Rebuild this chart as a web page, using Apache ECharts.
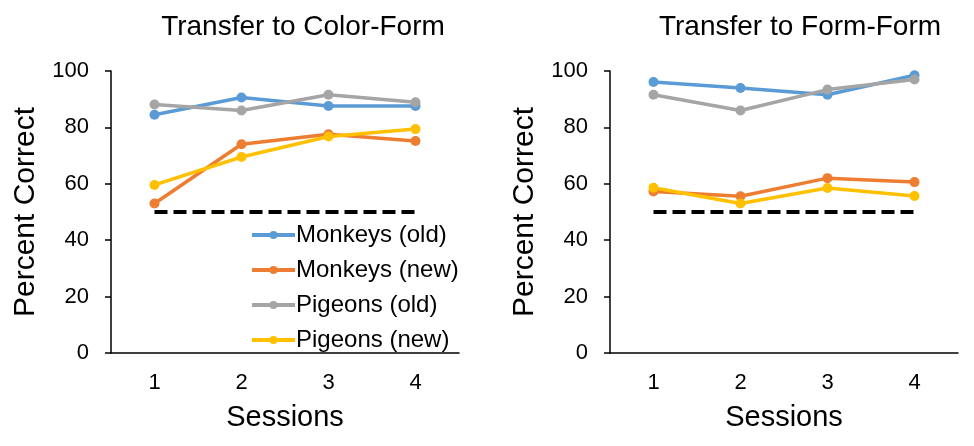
<!DOCTYPE html>
<html>
<head>
<meta charset="utf-8">
<script src="https://cdn.jsdelivr.net/npm/echarts@6/dist/echarts.min.js"></script>
<style>
html, body { margin: 0; padding: 0; background: #fff; }
#main { width: 974px; height: 446px; }
</style>
</head>
<body>
<div id="main"></div>
<script>
var sessions = ['1', '2', '3', '4'];
var names = ['Monkeys (old)', 'Monkeys (new)', 'Pigeons (old)', 'Pigeons (new)'];
var colors = ['#5B9BD5', '#ED7D31', '#A5A5A5', '#FFC000'];

// Transfer to Color-Form
var cfMonkeysOld = [84.5, 90.6, 87.6, 87.6];
var cfMonkeysNew = [53, 74, 77.6, 75.2];
var cfPigeonsOld = [88.1, 86, 91.6, 88.9];
var cfPigeonsNew = [59.6, 69.5, 76.8, 79.4];

// Transfer to Form-Form
var ffMonkeysOld = [96.1, 94, 91.6, 98.5];
var ffMonkeysNew = [57.3, 55.6, 62, 60.6];
var ffPigeonsOld = [91.6, 86, 93.4, 97];
var ffPigeonsNew = [58.6, 53, 58.5, 55.7];

var chance = [50, 50, 50, 50];

var font = 'Liberation Sans, Arial, sans-serif';

function lineSeries(name, data, idx, color) {
	return {
		name: name,
		type: 'line',
		xAxisIndex: idx,
		yAxisIndex: idx,
		data: data,
		symbol: 'circle',
		symbolSize: 10,
		lineStyle: { width: 3.5, color: color },
		itemStyle: { color: color },
		animation: false
	};
}

function chanceSeries(idx) {
	return {
		name: 'chance',
		type: 'line',
		xAxisIndex: idx,
		yAxisIndex: idx,
		data: chance,
		symbol: 'none',
		lineStyle: { width: 4, color: '#000', type: [13, 6] },
		z: 1,
		animation: false
	};
}

function xAx(idx) {
	return {
		type: 'category',
		gridIndex: idx,
		data: sessions,
		boundaryGap: true,
		name: 'Sessions',
		nameLocation: 'middle',
		nameGap: 50,
		nameTextStyle: { fontFamily: font, fontSize: 29, color: '#000' },
		axisLine: { lineStyle: { color: '#000', width: 1.5 } },
		axisTick: { length: 7, lineStyle: { color: '#000', width: 1.5 } },
		axisLabel: { fontFamily: font, fontSize: 22, color: '#000', margin: 19 }
	};
}

function yAx(idx) {
	return {
		type: 'value',
		gridIndex: idx,
		min: 0,
		max: 100,
		interval: 20,
		name: 'Percent Correct',
		nameLocation: 'middle',
		nameGap: 70,
		nameTextStyle: { fontFamily: font, fontSize: 30, color: '#000' },
		splitLine: { show: false },
		axisLine: { show: true, lineStyle: { color: '#000', width: 1.5 } },
		axisTick: { show: true, length: 6, lineStyle: { color: '#000', width: 1.5 } },
		axisLabel: { fontFamily: font, fontSize: 22, color: '#000', margin: 22 }
	};
}

var chart = echarts.init(document.getElementById('main'));
chart.setOption({
	backgroundColor: '#fff',
	title: [
		{ text: 'Transfer to Color-Form', left: 298, top: 8, textAlign: 'center',
			textStyle: { fontFamily: font, fontSize: 28, fontWeight: 'normal', color: '#000' } },
		{ text: 'Transfer to Form-Form', left: 795, top: 8, textAlign: 'center',
			textStyle: { fontFamily: font, fontSize: 28, fontWeight: 'normal', color: '#000' } }
	],
	legend: {
		data: names,
		orient: 'vertical',
		left: 245,
		top: 218,
		itemWidth: 43,
		itemHeight: 10,
		itemGap: 11,
		lineStyle: { width: 4 },
		textStyle: { fontFamily: font, fontSize: 24, color: '#000', padding: [0, 0, 0, -4] }
	},
	grid: [
		{ left: 111, right: 515, top: 71, bottom: 93 },
		{ left: 610, right: 16, top: 71, bottom: 93 }
	],
	xAxis: [xAx(0), xAx(1)],
	yAxis: [yAx(0), yAx(1)],
	series: [
		chanceSeries(0),
		lineSeries(names[0], cfMonkeysOld, 0, colors[0]),
		lineSeries(names[1], cfMonkeysNew, 0, colors[1]),
		lineSeries(names[2], cfPigeonsOld, 0, colors[2]),
		lineSeries(names[3], cfPigeonsNew, 0, colors[3]),
		chanceSeries(1),
		lineSeries(names[0], ffMonkeysOld, 1, colors[0]),
		lineSeries(names[1], ffMonkeysNew, 1, colors[1]),
		lineSeries(names[2], ffPigeonsOld, 1, colors[2]),
		lineSeries(names[3], ffPigeonsNew, 1, colors[3])
	]
});
</script>
</body>
</html>
